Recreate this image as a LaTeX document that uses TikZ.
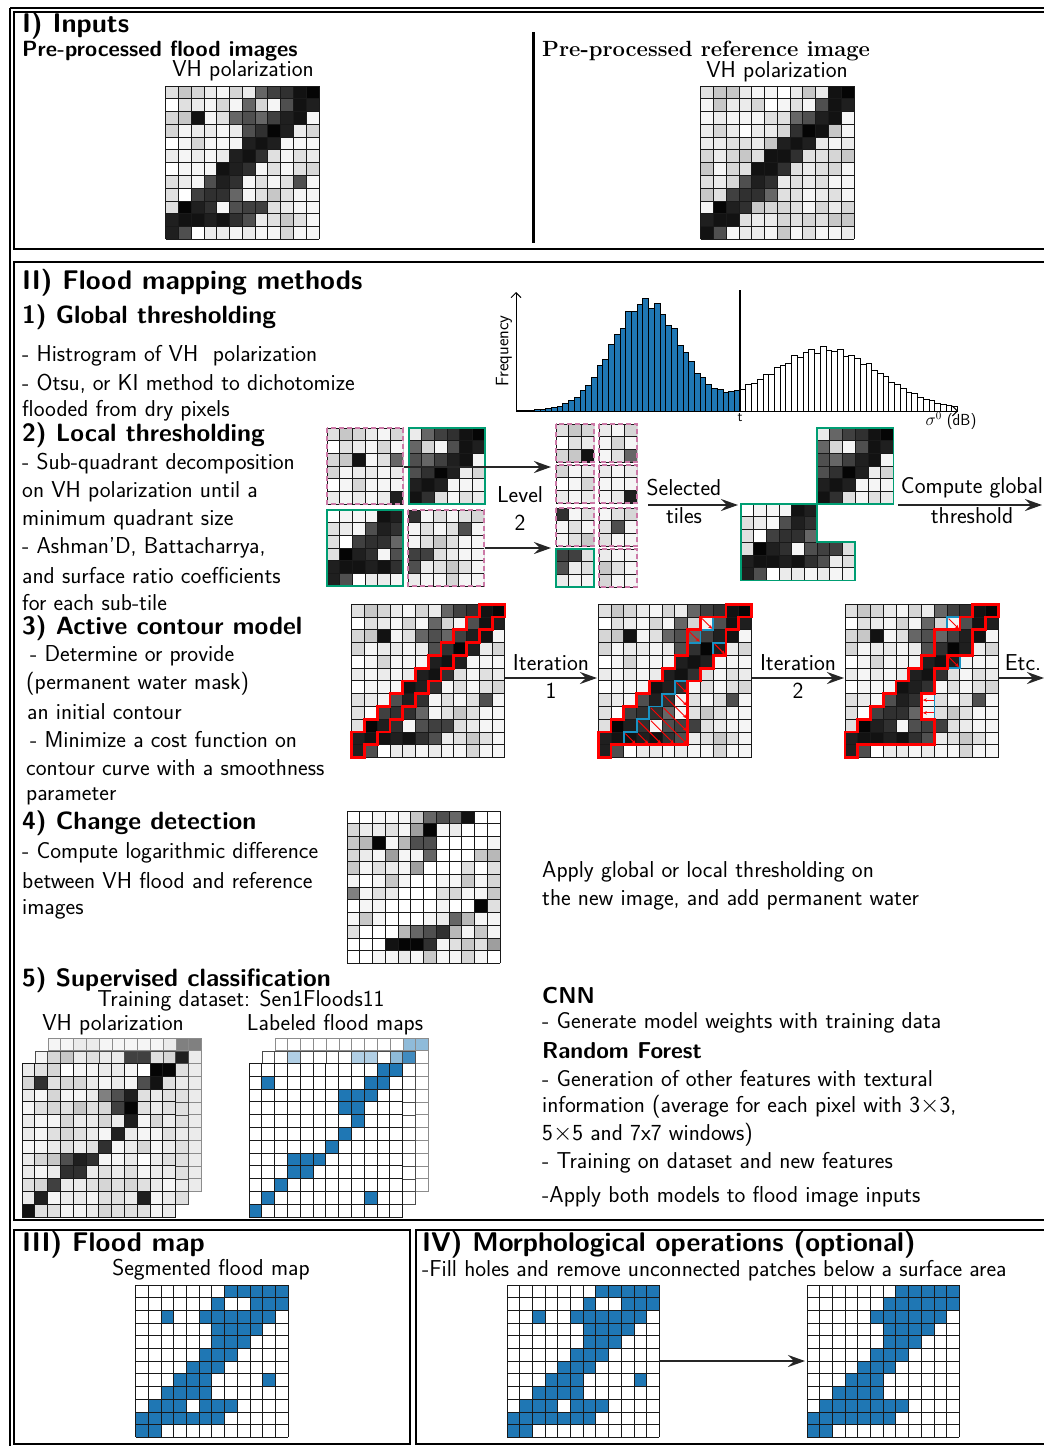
\documentclass[tikz,border=0pt]{standalone}
\usepackage{fontspec}
\usetikzlibrary{arrows.meta}
\definecolor{tabblue}{RGB}{31,119,180}
\definecolor{okgreen}{RGB}{0,158,115}
\definecolor{okpink}{RGB}{204,121,167}
\definecolor{g0}{gray}{0.02}\definecolor{g1}{gray}{0.07}\definecolor{g2}{gray}{0.12}
\definecolor{g3}{gray}{0.19}\definecolor{g4}{gray}{0.25}\definecolor{g5}{gray}{0.31}
\definecolor{g6}{gray}{0.40}\definecolor{g7}{gray}{0.50}\definecolor{g8}{gray}{0.62}
\definecolor{g9}{gray}{0.72}\definecolor{ga}{gray}{0.78}\definecolor{gb}{gray}{0.84}
\definecolor{gc}{gray}{0.88}\definecolor{gd}{gray}{0.92}\definecolor{ge}{gray}{0.96}
\definecolor{gw}{gray}{1}
\colorlet{gu}{tabblue}\colorlet{gl}{tabblue!50!white}\colorlet{gk}{tabblue!35!white}\colorlet{gm}{tabblue!85!white}
\def\cs{12.7}
\newcommand\cells[2][black!90]{%
  \foreach \rowdata [count=\jj from 0] in #2 {%
    \foreach \v [count=\ii from 0] in \rowdata {%
      \fill[fill=g\v] (\ii,\jj) rectangle ++(1,1);
    }%
  }%
  \foreach \k in {0,...,12} {%
    \draw[gridln,#1] (\k,0) -- (\k,12);
    \draw[gridln,#1] (0,\k) -- (12,\k);
  }%
}
% x, y, c0, r0, ncols, nrows, data, border style
\newcommand\tile[8]{%
  \begin{scope}[shift={(#1,#2)}, x=\cs pt, y=-\cs pt]
    \begin{scope}
      \clip (0,0) rectangle (#5,#6);
      \begin{scope}[shift={(-#3,-#4)}]\cells{#7}\end{scope}
    \end{scope}
    \draw[#8] (0,0) rectangle (#5,#6);
  \end{scope}}
\def\floodD{{c,a,b,d,e,b,d,6,4,3,1,0},{w,c,d,e,b,e,6,b,e,5,1,2},{b,a,1,e,c,6,5,6,4,2,1,e},{b,e,d,d,e,d,5,3,0,2,d,b},{w,e,b,e,e,e,2,1,2,e,e,e},{d,e,d,e,d,2,1,3,c,e,c,d},{w,e,e,e,1,2,3,e,c,e,c,b},{c,d,e,5,2,3,e,c,e,c,5,e},{c,w,4,3,3,6,e,c,a,c,e,e},{c,0,2,3,e,5,4,4,c,d,e,e},{2,1,1,2,1,3,5,d,c,a,c,e},{2,5,w,d,d,e,d,e,e,b,e,e}}
\def\refD{{c,a,a,d,e,e,w,d,a,d,1,0},{e,a,d,d,b,w,e,c,e,5,1,2},{e,d,e,e,e,c,c,6,5,2,1,e},{d,b,d,w,d,d,b,3,0,1,a,e},{d,d,c,c,d,a,2,1,2,d,e,d},{b,d,b,a,c,1,1,3,c,c,b,a},{a,e,b,c,1,1,3,c,d,c,b,e},{c,d,b,5,2,3,d,c,d,c,e,e},{a,c,4,3,3,6,c,c,e,d,c,e},{e,0,2,3,a,b,b,c,e,b,d,b},{2,1,1,c,d,d,b,c,b,c,a,a},{1,5,e,d,d,e,a,e,c,e,e,d}}
\def\chgD{{w,w,e,e,e,a,6,5,6,1,w,w},{b,d,d,c,e,8,0,e,d,w,w,w},{a,9,0,e,9,5,5,w,w,w,w,e},{b,d,e,8,e,e,6,w,w,w,a,9},{a,e,c,d,e,8,w,w,w,c,w,c},{e,w,e,a,e,w,w,e,e,a,e,b},{7,e,c,d,w,w,w,c,b,e,e,a},{w,e,e,w,w,w,w,e,w,w,0,c},{e,a,e,w,w,w,e,d,6,9,e,e},{c,w,w,w,9,6,5,3,9,e,a,e},{w,w,w,1,0,0,3,e,c,a,c,8},{w,w,e,e,d,e,a,e,e,b,e,w}}
\def\vhF{{d,c,b,w,e,e,d,d,e,w,0,0},{b,3,c,b,b,d,e,d,e,5,1,c},{d,e,b,e,e,d,7,5,2,c,d,c},{e,c,b,c,a,c,b,4,0,c,d,c},{d,e,e,b,d,d,b,d,2,e,b,d},{d,e,c,b,c,d,e,2,d,e,e,c},{e,e,d,c,d,c,3,e,d,b,e,d},{d,b,a,5,2,3,e,e,d,w,d,c},{d,e,d,3,3,d,c,d,c,e,d,d},{c,b,4,d,d,c,b,c,b,c,d,e},{d,2,e,d,d,e,c,c,d,2,e,d},{1,c,c,e,e,d,b,c,c,c,e,d}}
\def\vhM{{e,b,a,d,c,d,d,4,4,c,b,2},{c,c,c,c,c,c,c,c,c,c,c,c},{c,c,c,c,c,c,c,c,c,c,c,d},{c,c,c,c,c,c,c,c,c,c,c,c},{c,c,c,c,c,c,c,c,c,c,c,c},{c,c,c,c,c,c,c,c,c,c,c,c},{c,c,c,c,c,c,c,c,c,c,c,d},{c,c,c,c,c,c,c,c,c,c,c,c},{c,c,c,c,c,c,c,c,c,c,c,c},{c,c,c,c,c,c,c,c,c,c,c,c},{c,c,c,c,c,c,c,c,c,c,c,d},{c,c,c,c,c,c,c,c,c,c,c,c}}
\def\vhB{{e,e,d,d,e,e,e,e,e,d,7,7},{d,d,d,d,d,d,d,d,d,d,d,d},{d,d,d,d,d,d,d,d,d,d,d,d},{d,d,d,d,d,d,d,d,d,d,d,d},{d,d,d,d,d,d,d,d,d,d,d,d},{d,d,d,d,d,d,d,d,d,d,d,d},{d,d,d,d,d,d,d,d,d,d,d,d},{d,d,d,d,d,d,d,d,d,d,d,d},{d,d,d,d,d,d,d,d,d,d,d,d},{d,d,d,d,d,d,d,d,d,d,d,d},{d,d,d,d,d,d,d,d,d,d,d,d},{d,d,d,d,d,d,d,d,d,d,d,d}}
\def\labF{{w,w,w,w,w,w,w,w,w,w,u,u},{w,u,w,w,w,w,w,w,w,u,u,w},{w,w,w,w,w,w,w,u,u,u,w,w},{w,w,w,w,w,w,w,u,u,w,w,w},{w,w,w,w,w,w,w,w,u,w,w,w},{w,w,w,w,w,w,w,u,w,w,w,w},{w,w,w,w,w,w,u,w,w,w,w,w},{w,w,w,u,u,u,w,w,w,w,w,w},{w,w,w,u,u,w,w,w,w,w,w,w},{w,w,u,w,w,w,w,w,w,w,w,w},{w,u,w,w,w,w,w,w,w,u,w,w},{u,w,w,w,w,w,w,w,w,w,w,w}}
\def\labM{{w,w,k,w,w,w,w,k,k,w,l,m},{w,w,w,w,w,w,w,w,w,w,w,w},{w,w,w,w,w,w,w,w,w,w,w,w},{w,w,w,w,w,w,w,w,w,w,w,w},{w,w,w,w,w,w,w,w,w,w,w,w},{w,w,w,w,w,w,w,w,w,w,w,w},{w,w,w,w,w,w,w,w,w,w,w,w},{w,w,w,w,w,w,w,w,w,w,w,w},{w,w,w,w,w,w,w,w,w,w,w,w},{w,w,w,w,w,w,w,w,w,w,w,w},{w,w,w,w,w,w,w,w,w,w,w,w},{w,w,w,w,w,w,w,w,w,w,w,w}}
\def\labB{{w,w,w,w,w,w,w,w,w,w,l,l},{w,w,w,w,w,w,w,w,w,w,w,w},{w,w,w,w,w,w,w,w,w,w,w,w},{w,w,w,w,w,w,w,w,w,w,w,w},{w,w,w,w,w,w,w,w,w,w,w,w},{w,w,w,w,w,w,w,w,w,w,w,w},{w,w,w,w,w,w,w,w,w,w,w,w},{w,w,w,w,w,w,w,w,w,w,w,w},{w,w,w,w,w,w,w,w,w,w,w,w},{w,w,w,w,w,w,w,w,w,w,w,w},{w,w,w,w,w,w,w,w,w,w,w,w},{w,w,w,w,w,w,w,w,w,w,w,w}}
\def\segD{{w,w,w,w,w,w,w,u,u,u,u,u},{w,w,w,w,w,w,u,w,w,u,u,u},{w,w,u,w,w,u,u,u,u,u,u,w},{w,w,w,w,w,w,u,u,u,u,w,w},{w,w,w,w,w,w,u,u,u,w,w,w},{w,w,w,w,w,u,u,u,w,w,w,w},{w,w,w,w,u,u,u,w,w,w,w,w},{w,w,w,u,u,u,w,w,w,w,u,w},{w,w,u,u,u,u,w,w,w,w,w,w},{w,u,u,u,w,u,u,u,w,w,w,w},{u,u,u,u,u,u,u,w,w,w,w,w},{u,u,w,w,w,w,w,w,w,w,w,w}}
\def\morD{{w,w,w,w,w,w,w,u,u,u,u,u},{w,w,w,w,w,w,u,u,u,u,u,u},{w,w,w,w,w,u,u,u,u,u,u,w},{w,w,w,w,w,w,u,u,u,u,w,w},{w,w,w,w,w,w,u,u,u,w,w,w},{w,w,w,w,w,u,u,u,w,w,w,w},{w,w,w,w,u,u,u,w,w,w,w,w},{w,w,w,u,u,u,w,w,w,w,w,w},{w,w,u,u,u,u,w,w,w,w,w,w},{w,u,u,u,u,u,u,u,w,w,w,w},{u,u,u,u,u,u,u,w,w,w,w,w},{u,u,w,w,w,w,w,w,w,w,w,w}}
\begin{document}
\begin{tikzpicture}[x=1pt,y=-1pt,
  gridln/.style={line width=1pt},
  frame/.style={line width=2.4pt},
  body/.style={font=\fontsize{23}{27}\selectfont\sffamily, inner sep=0pt, anchor=west},
  bodyc/.style={font=\fontsize{23}{27}\selectfont\sffamily, inner sep=0pt},
  bodyb/.style={font=\fontsize{23}{27}\selectfont\sffamily\bfseries, inner sep=0pt, anchor=west},
  hone/.style={font=\fontsize{27}{30}\selectfont\sffamily\bfseries, inner sep=0pt, anchor=west},
  htwo/.style={font=\fontsize{25}{28}\selectfont\sffamily\bfseries, inner sep=0pt, anchor=west},
  hthree/.style={font=\fontsize{22}{26}\selectfont\sffamily\bfseries, inner sep=0pt, anchor=west},
  pinkb/.style={draw=okpink, line width=1.8pt, dash pattern=on 5pt off 3pt},
  greenb/.style={draw=okgreen, line width=1.8pt},
  contour/.style={draw=red, line width=2.8pt, line join=miter},
  blueo/.style={draw=tabblue!80!cyan, line width=1.8pt},
  redarr/.style={red, line width=0.9pt, -{Stealth[length=4pt,width=3.5pt]}},
  arr/.style={line width=1.6pt, draw=black!85, -{Stealth[length=17pt,width=12pt,inset=6pt]}},
  bar/.style={draw=black, line width=0.7pt}]
\useasboundingbox (0,0) rectangle (1044,1446);
\fill[white] (0,0) rectangle (1044,1446);
% frames
\draw[frame] (10,8) -- (1060,8);
\draw[frame] (10,8) -- (10,1450);
\draw[frame] (14,12) rectangle (1060,249);
\draw[frame] (14,262) rectangle (1060,1220);
\draw[frame] (14,1230) rectangle (410,1444);
\draw[frame] (416,1230) rectangle (1060,1444);
\draw[line width=3pt] (533,32) -- (533,243);
% ---------- Section I
\node[hone] (tI) at (22,26) {I) Inputs};
\node[hthree] (tpf) at (22,51) {Pre-processed flood images};
\node[bodyc] (tvh1) at (243,71) {VH polarization};
\node[font=\fontsize{22}{26}\selectfont\rmfamily\bfseries, inner sep=0pt, anchor=west] (tpr) at (542,51) {Pre-processed reference image};
\node[bodyc] (tvh2) at (777,72) {VH polarization};
\begin{scope}[shift={(165.7,86)}, x=12.78pt, y=-12.78pt]\cells\floodD\end{scope}
\begin{scope}[shift={(700.7,86)}, x=12.78pt, y=-12.78pt]\cells\refD\end{scope}
% ---------- Section II
\node[hone] (tII) at (22,283) {II) Flood mapping methods};
\node[htwo] (t1) at (22,317) {1) Global thresholding};
\node[body] at (22,356) {- Histrogram of VH\ \ polarization};
\node[body] at (22,384) {- Otsu, or KI method to dichotomize};
\node[body] at (22,411) {flooded from dry pixels};
\node[htwo] (t2) at (22,435) {2) Local thresholding};
\node[body] at (22,464) {- Sub-quadrant decomposition};
\node[body] at (22,492) {on VH polarization until a};
\node[body] at (22,520) {minimum quadrant size};
\node[body] at (22,548) {- Ashman'D, Battacharrya,};
\node[body] at (22,576) {and surface ratio coefficients};
\node[body] at (22,603) {for each sub-tile};
\node[htwo] (t3) at (22,628) {3) Active contour model};
\node[body] at (30,656) {- Determine or provide};
\node[body] at (26,684) {(permanent water mask)};
\node[body] at (27,712) {an initial contour};
\node[body] at (30,740) {- Minimize a cost function on};
\node[body] at (26,768) {contour curve with a smoothness};
\node[body] at (26,796) {parameter};
\node[htwo] (t4) at (22,823) {4) Change detection};
\node[body] at (22,853) {- Compute logarithmic difference};
\node[body] at (22,881) {between VH flood and reference};
\node[body] at (22,909) {images};
\node[body] at (542,872) {Apply global or local thresholding on};
\node[body] at (542,900) {the new image, and add permanent water};
\node[htwo] (t5) at (22,980) {5) Supervised classification};
\node[bodyc] at (241,1001) {Training dataset: Sen1Floods11};
\node[bodyc] at (113,1025) {VH polarization};
\node[bodyc] at (335,1025) {Labeled flood maps};
\node[bodyb] at (542,995) {CNN};
\node[body] at (542,1023) {- Generate model weights with training data};
\node[bodyb] at (542,1051) {Random Forest};
\node[body] at (542,1079) {- Generation of other features with textural};
\node[body] at (542,1107) {information (average for each pixel with 3$\times$3,};
\node[body] at (542,1135) {5$\times$5 and 7x7 windows)};
\node[body] at (542,1163) {- Training on dataset and new features};
\node[body] at (542,1197) {-Apply both models to flood image inputs};
% histogram
\foreach \i in {0,...,76} {%
  \pgfmathsetmacro\xa{517+\i*5.72}%
  \pgfmathsetmacro\xc{\xa+2.86}%
  \pgfmathsetmacro\ua{(\xc-646)/34}%
  \pgfmathsetmacro\ub{(\xc-825)/55}%
  \pgfmathsetmacro\h{(108*exp(-\ua*\ua/2)+61*exp(-\ub*\ub/2))*(1+0.05*sin(\i*137))+0.6}%
  \ifdim\xc pt<740pt \def\hc{tabblue}\else\def\hc{white}\fi
  \draw[bar, fill=\hc] (\xa,411) rectangle ++(5.72,-\h);
}
\coordinate (ho) at (516,411);
\draw[line width=0.9pt, -{Straight Barb[length=5pt]}] (ho) -- (516,292);
\draw[line width=0.9pt, -{Straight Barb[length=5pt]}] (ho) -- (958,411);
\draw[line width=2pt] (740,290) -- (740,411);
\node[font=\fontsize{18}{20}\selectfont\sffamily, rotate=90, inner sep=0pt] at (504,351) {Frequency};
\node[font=\fontsize{14}{16}\selectfont\sffamily, inner sep=0pt] at (740,418) {t};
\node[font=\fontsize{16}{18}\selectfont\sffamily, inner sep=0pt] at (951,421) {$\sigma^0$ (dB)};
% local thresholding tiles
\tile{327}{428}{0}{0}{6}{6}{\floodD}{pinkb}
\tile{409}{428}{6}{0}{6}{6}{\floodD}{greenb}
\tile{327}{510}{0}{6}{6}{6}{\floodD}{greenb}
\tile{408}{510}{6}{6}{6}{6}{\floodD}{pinkb}
\tile{556}{424}{0}{0}{3}{3}{\floodD}{pinkb}
\tile{599}{424}{3}{0}{3}{3}{\floodD}{pinkb}
\tile{556}{465}{0}{3}{3}{3}{\floodD}{pinkb}
\tile{599}{465}{3}{3}{3}{3}{\floodD}{pinkb}
\tile{556}{508}{6}{6}{3}{3}{\floodD}{pinkb}
\tile{599}{508}{9}{6}{3}{3}{\floodD}{pinkb}
\tile{556}{549}{6}{9}{3}{3}{\floodD}{greenb}
\tile{599}{549}{9}{9}{3}{3}{\floodD}{pinkb}
\coordinate (a1s) at (404,467); \coordinate (a1e) at (551,467);
\coordinate (a2s) at (485,548); \coordinate (a2e) at (551,548);
\draw[arr] (a1s) -- (a1e);
\draw[arr] (a2s) -- (a2e);
\node[bodyc] (lvl) at (520,495) {Level};
\node[bodyc] (lvl2) at (520,523) {2};
\node[bodyc] (sel) at (684,488) {Selected};
\node[bodyc] (sel2) at (684,516) {tiles};
\coordinate (a3s) at (648,505); \coordinate (a3e) at (738,505);
\draw[arr] (a3s) -- (a3e);
\begin{scope}[shift={(741,428)}, x=\cs pt, y=-\cs pt]
  \begin{scope}
    \clip (6,0) rectangle (12,6) (0,6) -- (6,6) -- (6,9) -- (9,9) -- (9,12) -- (0,12) -- cycle;
    \cells\floodD
  \end{scope}
  \draw[greenb] (6,0) rectangle (12,6);
  \draw[greenb] (0,6) -- (6,6) -- (6,9) -- (9,9) -- (9,12) -- (0,12) -- cycle;
\end{scope}
\node[bodyc] (cg) at (972,488) {Compute global};
\node[bodyc] (cg2) at (972,516) {threshold};
\coordinate (a4s) at (898,505); \coordinate (a4e) at (1042,505);
\draw[arr] (a4s) -- (a4e);
% active contour
\begin{scope}[shift={(351.7,604.3)}, x=12.77pt, y=-12.77pt]
  \cells\floodD
  \draw[contour] (10,0) -- (12,0) -- (12,1) -- (11,1) -- (11,2) -- (10,2) -- (10,3) -- (9,3) -- (9,4) -- (8,4) -- (8,5) -- (7,5) -- (7,6) -- (6,6) -- (6,7) -- (5,7) -- (5,8) -- (4,8) -- (4,9) -- (3,9) -- (3,10) -- (2,10) -- (2,11) -- (1,11) -- (1,12) -- (0,12) -- (0,10) -- (1,10) -- (1,9) -- (2,9) -- (2,8) -- (3,8) -- (3,7) -- (4,7) -- (4,6) -- (5,6) -- (5,5) -- (6,5) -- (6,4) -- (7,4) -- (7,3) -- (8,3) -- (8,2) -- (9,2) -- (9,1) -- (10,1) -- cycle;
\end{scope}
\begin{scope}[shift={(598.3,604.3)}, x=12.77pt, y=-12.77pt]
  \cells\floodD
  \draw[blueo] (7,6) -- (7,11) -- (2,11) -- (2,10) -- (3,10) -- (3,9) -- (4,9) -- (4,8) -- (5,8) -- (5,7) -- (6,7) -- (6,6) -- cycle;
  \draw[blueo] (8,1) rectangle (9,2) (7,2) rectangle (8,3) (9,3) rectangle (10,4);
  \foreach \a/\b/\c/\d in {6/6/7/7, 6/7/7/8, 5/7/7/9, 5/8/7/10, 4/8/7/11, 4/9/6/11, 3/9/5/11, 3/10/4/11, 2/10/3/11, 8/1/9/2, 7/2/8/3, 9/3/10/4} {\draw[redarr] (\a+0.12,\b+0.12) -- (\c-0.08,\d-0.08);}
  \draw[contour] (10,0) -- (12,0) -- (12,1) -- (11,1) -- (11,2) -- (10,2) -- (10,4) -- (9,4) -- (9,5) -- (8,5) -- (8,6) -- (7,6) -- (7,11) -- (1,11) -- (1,12) -- (0,12) -- (0,10) -- (1,10) -- (1,9) -- (2,9) -- (2,8) -- (3,8) -- (3,7) -- (4,7) -- (4,6) -- (5,6) -- (5,5) -- (6,5) -- (6,4) -- (7,4) -- (7,2) -- (8,2) -- (8,1) -- (10,1) -- cycle;
\end{scope}
\begin{scope}[shift={(845,604.3)}, x=12.77pt, y=-12.77pt]
  \cells\floodD
  \draw[blueo] (8,1) rectangle (9,2) (8,4) rectangle (9,5) (6,7) rectangle (7,9);
  \foreach \a/\b/\c/\d in {8/1/9/2, 8/4/9/5} {\draw[redarr] (\a+0.12,\b+0.12) -- (\c-0.08,\d-0.08);}
  \foreach \b in {7.5,8.5} {\draw[redarr] (7,\b) -- (6.1,\b);}
  \draw[contour] (10,0) -- (12,0) -- (12,1) -- (11,1) -- (11,2) -- (10,2) -- (10,4) -- (8,4) -- (8,5) -- (7,5) -- (7,7) -- (6,7) -- (6,9) -- (7,9) -- (7,11) -- (1,11) -- (1,12) -- (0,12) -- (0,10) -- (1,10) -- (1,9) -- (2,9) -- (2,8) -- (3,8) -- (3,7) -- (4,7) -- (4,6) -- (5,6) -- (5,5) -- (6,5) -- (6,4) -- (7,4) -- (7,2) -- (9,2) -- (9,1) -- (10,1) -- cycle;
\end{scope}
\coordinate (i1s) at (505,678); \coordinate (i1e) at (597,678);
\coordinate (i2s) at (752,678); \coordinate (i2e) at (844,678);
\coordinate (i3s) at (998,678); \coordinate (i3e) at (1044,678);
\draw[arr] (i1s) -- (i1e);
\draw[arr] (i2s) -- (i2e);
\draw[arr] (i3s) -- (i3e);
\node[bodyc] at (551,663) {Iteration};
\node[bodyc] at (551,691) {1};
\node[bodyc] at (798,663) {Iteration};
\node[bodyc] at (798,691) {2};
\node[bodyc] at (1023,663) {Etc.};
% change detection
\begin{scope}[shift={(347,811)}, x=12.75pt, y=-12.7pt]\cells\chgD\end{scope}
% supervised stacks
\begin{scope}[shift={(48,1038)}, x=12.8pt, y=-12.8pt]\cells[black!45]\vhB\end{scope}
\begin{scope}[shift={(35,1051)}, x=12.8pt, y=-12.8pt]\cells[black!70]\vhM\end{scope}
\begin{scope}[shift={(22,1063.5)}, x=12.8pt, y=-12.8pt]\cells\vhF\end{scope}
\begin{scope}[shift={(275,1038)}, x=12.8pt, y=-12.8pt]\cells[black!45]\labB\end{scope}
\begin{scope}[shift={(262,1051)}, x=12.8pt, y=-12.8pt]\cells[black!70]\labM\end{scope}
\begin{scope}[shift={(249,1063.5)}, x=12.8pt, y=-12.8pt]\cells\labF\end{scope}
% ---------- Section III
\node[hone] (tIII) at (22,1245) {III) Flood map};
\node[bodyc] at (211,1270) {Segmented flood map};
\begin{scope}[shift={(135.7,1285)}, x=12.7pt, y=-12.7pt]\cells\segD\end{scope}
% ---------- Section IV
\node[hone] (tIV) at (422,1245) {IV) Morphological operations (optional)};
\node[body] at (422,1271) {-Fill holes and remove unconnected patches below a surface area};
\begin{scope}[shift={(507,1285)}, x=12.7pt, y=-12.7pt]\cells\segD\end{scope}
\begin{scope}[shift={(807,1285)}, x=12.7pt, y=-12.7pt]\cells\morD\end{scope}
\coordinate (m1) at (660,1361); \coordinate (m2) at (805,1361);
\draw[arr] (m1) -- (m2);
\end{tikzpicture}
\end{document}
